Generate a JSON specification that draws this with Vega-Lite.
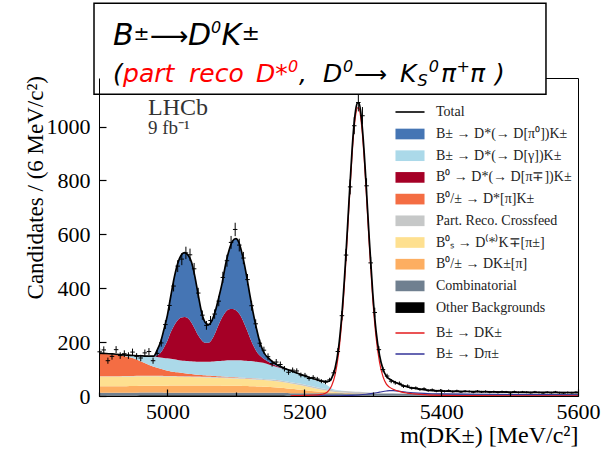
{
"$schema":"https://vega.github.io/schema/vega-lite/v6.json",
"width":479,"height":318,
"autosize":{"type":"none"},
"padding":{"left":99,"top":78,"right":33,"bottom":58},
"background":"white",
"config":{"view":{"stroke":"black","strokeWidth":1}},
"datasets":{
"comp":[
{"x":4900,"k1":2,"k2":10,"k3":24,"k4":36,"k5":1,"k6":85,"k7":1,"k8":0,"k9":0},
{"x":4910,"k1":2,"k2":9.95,"k3":24.2,"k4":36,"k5":1.1,"k6":83,"k7":1.5,"k8":0,"k9":0},
{"x":4920,"k1":2,"k2":9.9,"k3":24.4,"k4":36,"k5":1.2,"k6":80.5,"k7":2,"k8":0,"k9":0},
{"x":4930,"k1":2,"k2":9.85,"k3":24.6,"k4":36,"k5":1.3,"k6":77,"k7":3,"k8":0,"k9":0},
{"x":4940,"k1":2,"k2":9.8,"k3":24.8,"k4":36,"k5":1.4,"k6":73,"k7":5,"k8":0,"k9":0},
{"x":4950,"k1":2,"k2":9.75,"k3":25,"k4":36,"k5":1.5,"k6":66,"k7":10,"k8":0,"k9":0},
{"x":4960,"k1":3,"k2":9.7,"k3":25.2,"k4":35.6,"k5":1.6,"k6":55,"k7":19,"k8":0,"k9":0},
{"x":4970,"k1":3,"k2":9.65,"k3":25.4,"k4":35.2,"k5":1.7,"k6":44,"k7":29,"k8":0,"k9":0},
{"x":4980,"k1":3,"k2":9.6,"k3":25.6,"k4":34.8,"k5":1.8,"k6":34,"k7":37.2,"k8":0,"k9":2},
{"x":4985,"k1":3,"k2":9.6,"k3":25.7,"k4":34.6,"k5":1.9,"k6":30,"k7":40.3,"k8":5,"k9":20},
{"x":4990,"k1":3,"k2":9.6,"k3":25.8,"k4":34.4,"k5":1.9,"k6":26,"k7":42.4,"k8":17,"k9":40},
{"x":4995,"k1":3,"k2":9.5,"k3":25.9,"k4":34.2,"k5":2,"k6":23,"k7":43.4,"k8":39,"k9":68},
{"x":5000,"k1":3,"k2":9.5,"k3":26,"k4":34,"k5":2,"k6":19,"k7":46.5,"k8":65,"k9":95},
{"x":5005,"k1":3,"k2":9.5,"k3":26.1,"k4":33.6,"k5":2.1,"k6":17,"k7":46.8,"k8":99,"k9":135},
{"x":5010,"k1":3,"k2":9.5,"k3":26.2,"k4":33.2,"k5":2.1,"k6":15,"k7":47.1,"k8":126,"k9":178},
{"x":5015,"k1":3,"k2":9.4,"k3":26.3,"k4":32.8,"k5":2.2,"k6":14,"k7":46.3,"k8":147,"k9":211},
{"x":5020,"k1":3,"k2":9.4,"k3":26.4,"k4":32.4,"k5":2.2,"k6":12.5,"k7":46.1,"k8":159,"k9":231},
{"x":5025,"k1":3,"k2":9.4,"k3":26.5,"k4":32,"k5":2.3,"k6":11.5,"k7":46.4,"k8":162,"k9":239},
{"x":5030,"k1":3,"k2":9.4,"k3":26.6,"k4":31.6,"k5":2.3,"k6":10,"k7":47.2,"k8":158,"k9":235},
{"x":5035,"k1":3,"k2":9.3,"k3":26.7,"k4":31.2,"k5":2.4,"k6":9,"k7":47.4,"k8":144,"k9":225},
{"x":5040,"k1":3,"k2":9.3,"k3":26.8,"k4":30.8,"k5":2.4,"k6":7.7,"k7":48,"k8":122,"k9":195},
{"x":5045,"k1":3,"k2":9.3,"k3":26.9,"k4":30.4,"k5":2.5,"k6":7,"k7":48,"k8":98,"k9":150},
{"x":5050,"k1":3,"k2":9.3,"k3":27,"k4":30,"k5":2.5,"k6":6.2,"k7":49,"k8":80,"k9":103},
{"x":5055,"k1":3,"k2":9.2,"k3":26.9,"k4":29.7,"k5":2.6,"k6":5.6,"k7":50,"k8":71,"k9":76},
{"x":5060,"k1":3,"k2":9.2,"k3":26.8,"k4":29.4,"k5":2.6,"k6":5,"k7":51,"k8":71,"k9":67},
{"x":5065,"k1":3,"k2":9.2,"k3":26.7,"k4":29.1,"k5":2.7,"k6":4.4,"k7":53,"k8":82,"k9":70},
{"x":5070,"k1":3,"k2":9.2,"k3":26.6,"k4":28.8,"k5":2.7,"k6":3.8,"k7":55,"k8":106,"k9":80},
{"x":5075,"k1":3,"k2":9.1,"k3":26.5,"k4":28.5,"k5":2.8,"k6":3.3,"k7":56.8,"k8":135,"k9":100},
{"x":5080,"k1":3,"k2":9.1,"k3":26.4,"k4":28.2,"k5":2.8,"k6":2.9,"k7":58.6,"k8":161,"k9":128},
{"x":5085,"k1":3,"k2":9.1,"k3":26.3,"k4":27.9,"k5":2.9,"k6":2.5,"k7":60.4,"k8":180,"k9":176},
{"x":5090,"k1":3,"k2":9.1,"k3":26.2,"k4":27.6,"k5":2.9,"k6":2.1,"k7":62.2,"k8":189,"k9":218},
{"x":5095,"k1":3,"k2":9,"k3":26.1,"k4":27.3,"k5":3,"k6":1.8,"k7":62.8,"k8":190,"k9":251},
{"x":5100,"k1":3,"k2":9,"k3":26,"k4":27,"k5":3,"k6":1.5,"k7":63.5,"k8":185,"k9":266},
{"x":5105,"k1":3,"k2":9,"k3":25.6,"k4":26.7,"k5":3.1,"k6":1.3,"k7":64.3,"k8":172,"k9":261},
{"x":5110,"k1":3,"k2":9,"k3":25.2,"k4":26.4,"k5":3.2,"k6":1.1,"k7":64.2,"k8":150,"k9":236},
{"x":5115,"k1":3,"k2":8.9,"k3":24.8,"k4":26.1,"k5":3.3,"k6":1,"k7":63.9,"k8":121,"k9":203},
{"x":5120,"k1":3,"k2":8.9,"k3":24.4,"k4":25.8,"k5":3.4,"k6":0.9,"k7":63.6,"k8":90,"k9":162},
{"x":5125,"k1":3,"k2":8.9,"k3":24,"k4":25.5,"k5":3.5,"k6":0.8,"k7":63.3,"k8":61,"k9":122},
{"x":5130,"k1":3,"k2":8.9,"k3":23.6,"k4":25.2,"k5":3.6,"k6":0.7,"k7":62,"k8":39,"k9":86},
{"x":5135,"k1":3,"k2":8.8,"k3":23.2,"k4":24.9,"k5":3.7,"k6":0.6,"k7":60.8,"k8":25,"k9":50},
{"x":5140,"k1":3,"k2":8.8,"k3":22.8,"k4":24.6,"k5":3.8,"k6":0.5,"k7":59.5,"k8":16,"k9":27},
{"x":5150,"k1":3,"k2":8.8,"k3":22,"k4":24,"k5":4,"k6":0.4,"k7":52.9,"k8":8,"k9":12},
{"x":5160,"k1":3,"k2":8.7,"k3":20,"k4":23,"k5":4.2,"k6":0.3,"k7":48.8,"k8":3,"k9":5},
{"x":5170,"k1":3,"k2":8.7,"k3":18,"k4":21.5,"k5":4.4,"k6":0.2,"k7":44.2,"k8":1,"k9":3},
{"x":5180,"k1":2,"k2":8.6,"k3":16,"k4":20,"k5":4.6,"k6":0.2,"k7":41.1,"k8":0,"k9":1.5},
{"x":5190,"k1":2,"k2":8.6,"k3":13.5,"k4":18,"k5":4.8,"k6":0.1,"k7":35.5,"k8":0,"k9":0.5},
{"x":5200,"k1":2,"k2":8.5,"k3":11,"k4":16,"k5":5,"k6":0.1,"k7":30.4,"k8":0,"k9":0},
{"x":5210,"k1":2,"k2":8.5,"k3":8.5,"k4":13,"k5":5.3,"k6":0,"k7":26.8,"k8":0,"k9":0},
{"x":5220,"k1":2,"k2":8.4,"k3":6,"k4":10,"k5":5.5,"k6":0,"k7":23.1,"k8":0,"k9":0},
{"x":5230,"k1":2,"k2":8.4,"k3":4,"k4":7,"k5":5.8,"k6":0,"k7":17.9,"k8":0,"k9":0},
{"x":5240,"k1":1.5,"k2":8.3,"k3":2.5,"k4":4,"k5":6,"k6":0,"k7":5.7,"k8":0,"k9":0},
{"x":5250,"k1":1.5,"k2":8.3,"k3":1.6,"k4":2.5,"k5":6,"k6":0,"k7":1.1,"k8":0,"k9":0},
{"x":5260,"k1":1.5,"k2":8.2,"k3":1,"k4":1.5,"k5":6,"k6":0,"k7":0.3,"k8":0,"k9":0},
{"x":5270,"k1":1.5,"k2":8.2,"k3":0.6,"k4":1,"k5":5.5,"k6":0,"k7":0,"k8":0,"k9":0},
{"x":5280,"k1":1.5,"k2":8.1,"k3":0.3,"k4":0.5,"k5":5,"k6":0,"k7":0,"k8":0,"k9":0},
{"x":5290,"k1":1.5,"k2":8.1,"k3":0.1,"k4":0.2,"k5":4.3,"k6":0,"k7":0,"k8":0,"k9":0},
{"x":5300,"k1":1,"k2":8,"k3":0,"k4":0,"k5":3.5,"k6":0,"k7":0,"k8":0,"k9":0},
{"x":5320,"k1":1,"k2":7.9,"k3":0,"k4":0,"k5":2,"k6":0,"k7":0,"k8":0,"k9":0},
{"x":5340,"k1":1,"k2":7.8,"k3":0,"k4":0,"k5":1,"k6":0,"k7":0,"k8":0,"k9":0},
{"x":5360,"k1":1,"k2":7.7,"k3":0,"k4":0,"k5":0.5,"k6":0,"k7":0,"k8":0,"k9":0},
{"x":5380,"k1":1,"k2":7.6,"k3":0,"k4":0,"k5":0.2,"k6":0,"k7":0,"k8":0,"k9":0},
{"x":5400,"k1":1,"k2":7.5,"k3":0,"k4":0,"k5":0,"k6":0,"k7":0,"k8":0,"k9":0},
{"x":5450,"k1":1,"k2":7.3,"k3":0,"k4":0,"k5":0,"k6":0,"k7":0,"k8":0,"k9":0},
{"x":5500,"k1":1,"k2":7,"k3":0,"k4":0,"k5":0,"k6":0,"k7":0,"k8":0,"k9":0},
{"x":5550,"k1":1,"k2":6.8,"k3":0,"k4":0,"k5":0,"k6":0,"k7":0,"k8":0,"k9":0},
{"x":5600,"k1":1,"k2":6.5,"k3":0,"k4":0,"k5":0,"k6":0,"k7":0,"k8":0,"k9":0}
],
"tot":[
{"x":4900,"s":"Total","v":159},{"x":4910,"s":"Total","v":157.8},{"x":4920,"s":"Total","v":156},{"x":4930,"s":"Total","v":153.8},{"x":4940,"s":"Total","v":152},{"x":4950,"s":"Total","v":150.3},{"x":4960,"s":"Total","v":149.1},{"x":4970,"s":"Total","v":148},{"x":4980,"s":"Total","v":148},{"x":4985,"s":"Total","v":170},{"x":4990,"s":"Total","v":200},{"x":4995,"s":"Total","v":248},{"x":5000,"s":"Total","v":300},{"x":5005,"s":"Total","v":372},{"x":5010,"s":"Total","v":440},{"x":5015,"s":"Total","v":492},{"x":5020,"s":"Total","v":522},{"x":5025,"s":"Total","v":532},{"x":5030,"s":"Total","v":523},{"x":5035,"s":"Total","v":498},{"x":5040,"s":"Total","v":445},{"x":5045,"s":"Total","v":375},{"x":5050,"s":"Total","v":310},{"x":5055,"s":"Total","v":274},{"x":5060,"s":"Total","v":265},{"x":5065,"s":"Total","v":280},{"x":5070,"s":"Total","v":315},{"x":5075,"s":"Total","v":365},{"x":5080,"s":"Total","v":420},{"x":5085,"s":"Total","v":488},{"x":5090,"s":"Total","v":540},{"x":5095,"s":"Total","v":574},{"x":5100,"s":"Total","v":584},{"x":5105,"s":"Total","v":566},{"x":5110,"s":"Total","v":518},{"x":5115,"s":"Total","v":455},{"x":5120,"s":"Total","v":382},{"x":5125,"s":"Total","v":312},{"x":5130,"s":"Total","v":252},{"x":5135,"s":"Total","v":200},{"x":5140,"s":"Total","v":166},{"x":5150,"s":"Total","v":135},{"x":5160,"s":"Total","v":116},{"x":5170,"s":"Total","v":104},{"x":5180,"s":"Total","v":94},{"x":5190,"s":"Total","v":84.5},{"x":5200,"s":"Total","v":75},{"x":5210,"s":"Total","v":67},{"x":5220,"s":"Total","v":59},{"x":5225,"s":"Total","v":56},{"x":5230,"s":"Total","v":54},{"x":5235,"s":"Total","v":54},{"x":5240,"s":"Total","v":66.5},{"x":5245,"s":"Total","v":103},{"x":5250,"s":"Total","v":177},{"x":5255,"s":"Total","v":305},{"x":5260,"s":"Total","v":489},{"x":5265,"s":"Total","v":709},{"x":5270,"s":"Total","v":920},{"x":5272.5,"s":"Total","v":1003},{"x":5275,"s":"Total","v":1060},{"x":5277.5,"s":"Total","v":1088},{"x":5280,"s":"Total","v":1087},{"x":5282.5,"s":"Total","v":1053},{"x":5285,"s":"Total","v":990},{"x":5287.5,"s":"Total","v":904},{"x":5290,"s":"Total","v":802},{"x":5295,"s":"Total","v":581},{"x":5300,"s":"Total","v":385},{"x":5305,"s":"Total","v":239},{"x":5310,"s":"Total","v":151},{"x":5315,"s":"Total","v":100},{"x":5320,"s":"Total","v":73},{"x":5325,"s":"Total","v":62},{"x":5330,"s":"Total","v":55},{"x":5340,"s":"Total","v":43},{"x":5350,"s":"Total","v":34.5},{"x":5360,"s":"Total","v":29},{"x":5380,"s":"Total","v":22},{"x":5400,"s":"Total","v":19},{"x":5450,"s":"Total","v":16.3},{"x":5500,"s":"Total","v":14.6},{"x":5550,"s":"Total","v":13.5},{"x":5600,"s":"Total","v":12.5}
],
"sig":[
{"x":5200,"s":"Dpi","v":0},{"x":5220,"s":"Dpi","v":0.1},{"x":5240,"s":"Dpi","v":0.5},{"x":5250,"s":"Dpi","v":0.8},{"x":5260,"s":"Dpi","v":1.2},{"x":5270,"s":"Dpi","v":2},{"x":5280,"s":"Dpi","v":3.8},{"x":5290,"s":"Dpi","v":6.4},{"x":5300,"s":"Dpi","v":10},{"x":5310,"s":"Dpi","v":14.2},{"x":5320,"s":"Dpi","v":18.5},{"x":5325,"s":"Dpi","v":19.8},{"x":5330,"s":"Dpi","v":20},{"x":5340,"s":"Dpi","v":17.5},{"x":5350,"s":"Dpi","v":14},{"x":5360,"s":"Dpi","v":11.5},{"x":5380,"s":"Dpi","v":9.2},{"x":5400,"s":"Dpi","v":8},{"x":5450,"s":"Dpi","v":6.5},{"x":5500,"s":"Dpi","v":5.6},{"x":5550,"s":"Dpi","v":5},{"x":5600,"s":"Dpi","v":4.5},
{"x":5180,"s":"DK","v":1},{"x":5190,"s":"DK","v":1.5},{"x":5200,"s":"DK","v":2},{"x":5210,"s":"DK","v":3},{"x":5220,"s":"DK","v":4},{"x":5225,"s":"DK","v":6},{"x":5230,"s":"DK","v":9},{"x":5235,"s":"DK","v":18},{"x":5240,"s":"DK","v":38},{"x":5245,"s":"DK","v":78},{"x":5250,"s":"DK","v":155},{"x":5255,"s":"DK","v":284},{"x":5260,"s":"DK","v":469},{"x":5265,"s":"DK","v":690},{"x":5270,"s":"DK","v":901},{"x":5272.5,"s":"DK","v":984},{"x":5275,"s":"DK","v":1041},{"x":5277.5,"s":"DK","v":1069},{"x":5280,"s":"DK","v":1068},{"x":5282.5,"s":"DK","v":1033},{"x":5285,"s":"DK","v":970},{"x":5287.5,"s":"DK","v":884},{"x":5290,"s":"DK","v":781},{"x":5295,"s":"DK","v":560},{"x":5300,"s":"DK","v":362},{"x":5305,"s":"DK","v":215},{"x":5310,"s":"DK","v":125},{"x":5315,"s":"DK","v":72},{"x":5320,"s":"DK","v":44},{"x":5325,"s":"DK","v":32},{"x":5330,"s":"DK","v":25},{"x":5340,"s":"DK","v":16},{"x":5350,"s":"DK","v":11},{"x":5360,"s":"DK","v":8},{"x":5380,"s":"DK","v":4},{"x":5400,"s":"DK","v":2.5},{"x":5450,"s":"DK","v":1.5},{"x":5500,"s":"DK","v":1},{"x":5550,"s":"DK","v":0.7},{"x":5600,"s":"DK","v":0.5}
],
"pts":[
{"x":4901,"n":164,"e":12.8},{"x":4907,"n":171,"e":13.1},{"x":4913,"n":131,"e":11.4},{"x":4919,"n":147,"e":12.1},{"x":4925,"n":172,"e":13.1},{"x":4931,"n":150,"e":12.2},{"x":4937,"n":157,"e":12.5},{"x":4943,"n":150,"e":12.2},{"x":4949,"n":163,"e":12.8},{"x":4955,"n":147,"e":12.1},{"x":4961,"n":141,"e":11.9},{"x":4967,"n":160,"e":12.6},{"x":4973,"n":165,"e":12.8},{"x":4979,"n":131,"e":11.4},{"x":4985,"n":158,"e":12.6},{"x":4991,"n":197,"e":14.0},{"x":4997,"n":265,"e":16.3},{"x":5003,"n":336,"e":18.3},{"x":5009,"n":408,"e":20.2},{"x":5015,"n":482,"e":22.0},{"x":5021,"n":508,"e":22.5},{"x":5027,"n":531,"e":23.0},{"x":5033,"n":524,"e":22.9},{"x":5039,"n":472,"e":21.7},{"x":5045,"n":382,"e":19.5},{"x":5051,"n":300,"e":17.3},{"x":5057,"n":262,"e":16.2},{"x":5063,"n":280,"e":16.7},{"x":5069,"n":304,"e":17.4},{"x":5075,"n":352,"e":18.8},{"x":5081,"n":440,"e":21.0},{"x":5087,"n":502,"e":22.4},{"x":5093,"n":570,"e":23.9},{"x":5099,"n":618,"e":24.9},{"x":5105,"n":560,"e":23.7},{"x":5111,"n":512,"e":22.6},{"x":5117,"n":432,"e":20.8},{"x":5123,"n":335,"e":18.3},{"x":5129,"n":268,"e":16.4},{"x":5135,"n":196,"e":14.0},{"x":5141,"n":170,"e":13.0},{"x":5147,"n":146,"e":12.1},{"x":5153,"n":120,"e":11.0},{"x":5159,"n":126,"e":11.2},{"x":5165,"n":117,"e":10.8},{"x":5171,"n":101,"e":10.0},{"x":5177,"n":88,"e":9.4},{"x":5183,"n":96,"e":9.8},{"x":5189,"n":93,"e":9.6},{"x":5195,"n":78,"e":8.8},{"x":5201,"n":77,"e":8.8},{"x":5207,"n":65,"e":8.1},{"x":5213,"n":69,"e":8.3},{"x":5219,"n":63,"e":7.9},{"x":5225,"n":55,"e":7.4},{"x":5231,"n":51,"e":7.1},{"x":5237,"n":60,"e":7.7},{"x":5243,"n":86,"e":9.3},{"x":5249,"n":165,"e":12.8},{"x":5255,"n":298,"e":17.3},{"x":5261,"n":523,"e":22.9},{"x":5267,"n":776,"e":27.9},{"x":5273,"n":1003,"e":31.7},{"x":5279,"n":1089,"e":33.0},{"x":5285,"n":1040,"e":32.2},{"x":5291,"n":780,"e":27.9},{"x":5297,"n":494,"e":22.2},{"x":5303,"n":310,"e":17.6},{"x":5309,"n":172,"e":13.1},{"x":5315,"n":98,"e":9.9},{"x":5321,"n":74,"e":8.6},{"x":5327,"n":55,"e":7.4},{"x":5333,"n":49,"e":7.0},{"x":5339,"n":47,"e":6.9},{"x":5345,"n":36,"e":6.0},{"x":5351,"n":37,"e":6.1},{"x":5357,"n":29,"e":5.4},{"x":5363,"n":30,"e":5.5},{"x":5369,"n":24,"e":4.9},{"x":5375,"n":27,"e":5.2},{"x":5381,"n":20,"e":4.5},{"x":5387,"n":23,"e":4.8},{"x":5393,"n":18,"e":4.2},{"x":5399,"n":21,"e":4.6},{"x":5405,"n":17,"e":4.1},{"x":5411,"n":20,"e":4.5},{"x":5417,"n":16,"e":4.0},{"x":5423,"n":19,"e":4.4},{"x":5429,"n":15,"e":3.9},{"x":5435,"n":18,"e":4.2},{"x":5441,"n":17,"e":4.1},{"x":5447,"n":14,"e":3.7},{"x":5453,"n":18,"e":4.2},{"x":5459,"n":15,"e":3.9},{"x":5465,"n":17,"e":4.1},{"x":5471,"n":14,"e":3.7},{"x":5477,"n":16,"e":4.0},{"x":5483,"n":13,"e":3.6},{"x":5489,"n":16,"e":4.0},{"x":5495,"n":15,"e":3.9},{"x":5501,"n":12,"e":3.5},{"x":5507,"n":16,"e":4.0},{"x":5513,"n":13,"e":3.6},{"x":5519,"n":15,"e":3.9},{"x":5525,"n":14,"e":3.7},{"x":5531,"n":12,"e":3.5},{"x":5537,"n":15,"e":3.9},{"x":5543,"n":13,"e":3.6},{"x":5549,"n":11,"e":3.3},{"x":5555,"n":14,"e":3.7},{"x":5561,"n":12,"e":3.5},{"x":5567,"n":15,"e":3.9},{"x":5573,"n":12,"e":3.5},{"x":5579,"n":11,"e":3.3},{"x":5585,"n":13,"e":3.6},{"x":5591,"n":12,"e":3.5},{"x":5597,"n":14,"e":3.7}
]
},
"layer":[
{"data":{"name":"comp"},
 "transform":[{"fold":["k1","k2","k3","k4","k5","k6","k7","k8","k9"],"as":["key","v"]}],
 "mark":{"type":"area","interpolate":"monotone","opacity":1},
 "encoding":{
  "x":{"field":"x","type":"quantitative","title":"m(DK±) [MeV/c²]","scale":{"domain":[4900,5600],"nice":false,"zero":false},
   "axis":{"zindex":1,"ticks":true,"values":[4900,4950,5000,5050,5100,5150,5200,5250,5300,5350,5400,5450,5500,5550,5600],"format":"d","labelExpr":"datum.value % 200 === 0 ? datum.label : ''","labelFlush":false,"labelOverlap":false,"tickSize":-7,"tickDash":{"condition":{"test":"datum.value % 200 === 0","value":[7,1]},"value":[4,20]},"tickColor":"black","tickWidth":1.2,"tickOpacity":1,"domainColor":"black","domainWidth":1,"labelFont":"Liberation Serif","labelFontSize":22,"labelColor":"black","labelPadding":12,"titleFont":"Liberation Serif","titleFontSize":24,"titleFontWeight":"normal","titleColor":"black","titleAnchor":"end","titlePadding":1,"grid":false}},
  "y":{"field":"v","type":"quantitative","stack":"zero","title":null,"scale":{"domain":[0,1180],"nice":false,"zero":true},
   "axis":{"zindex":1,"ticks":true,"values":[0,50,100,150,200,250,300,350,400,450,500,550,600,650,700,750,800,850,900,950,1000,1050,1100,1150],"format":"d","labelExpr":"datum.value % 200 === 0 ? datum.label : ''","labelOverlap":false,"labelFlush":false,"tickSize":-7,"tickDash":{"condition":{"test":"datum.value % 200 === 0","value":[7,1]},"value":[4,20]},"tickColor":"black","tickWidth":1.2,"tickOpacity":1,"domainColor":"black","domainWidth":1,"labelFont":"Liberation Serif","labelFontSize":22,"labelColor":"black","labelPadding":16,"grid":false}},
  "fill":{"field":"key","type":"nominal",
   "scale":{"domain":["k9","k7","k8","k6","k5","k4","k3","k2","k1"],"range":["#4575b4","#abd9e9","#a50026","#f46d43","#c6c8c8","#fee090","#fdae61","#708090","#000000"]},
   "legend":{"orient":"none","legendX":304,"legendY":49,"title":null,"symbolType":"M-2.64,-0.97H2.64V0.97H-2.64Z","symbolSize":121,"symbolStrokeWidth":0,"symbolOpacity":1,"labelFont":"Liberation Serif","labelFontSize":14,"labelColor":"#222222","rowPadding":7.7,"labelOffset":19,"padding":0,"labelLimit":300,
    "labelExpr":"datum.label == 'k9' ? 'B± → D*(→ D[π⁰])K±' : datum.label == 'k7' ? 'B± → D*(→ D[γ])K±' : datum.label == 'k8' ? 'B⁰ → D*(→ D[π∓])K±' : datum.label == 'k6' ? 'B⁰/± → D*[π]K±' : datum.label == 'k5' ? 'Part. Reco. Crossfeed' : datum.label == 'k4' ? 'B⁰ₛ → D⁽*⁾K∓[π±]' : datum.label == 'k3' ? 'B⁰/± → DK±[π]' : datum.label == 'k2' ? 'Combinatorial' : 'Other Backgrounds'"}},
  "order":{"field":"key","sort":"ascending"}
 }},
{"data":{"name":"sig"},
 "mark":{"type":"line","interpolate":"monotone","strokeWidth":1.2},
 "encoding":{
  "x":{"field":"x","type":"quantitative","title":"m(DK±) [MeV/c²]"},
  "y":{"field":"v","type":"quantitative","title":null},
  "color":{"field":"s","type":"nominal","scale":{"domain":["DK","Dpi"],"range":["#e31a1c","#333399"]},
   "legend":{"orient":"none","legendX":304,"legendY":248,"title":null,"symbolType":"M-2.64,0H2.64","symbolSize":121,"symbolStrokeWidth":1.5,"labelFont":"Liberation Serif","labelFontSize":14,"labelColor":"#222222","rowPadding":7,"labelOffset":19,"padding":0,
    "labelExpr":"datum.label == 'DK' ? 'B± → DK±' : 'B± → Dπ±'"}}
 }},
{"data":{"name":"tot"},
 "mark":{"type":"line","interpolate":"monotone","strokeWidth":1.7},
 "encoding":{
  "x":{"field":"x","type":"quantitative","title":"m(DK±) [MeV/c²]"},
  "y":{"field":"v","type":"quantitative","title":null},
  "stroke":{"field":"s","type":"nominal","scale":{"domain":["Total"],"range":["#000000"]},
   "legend":{"orient":"none","legendX":304,"legendY":27,"title":null,"symbolType":"M-2.64,0H2.64","symbolSize":121,"symbolStrokeWidth":1.6,"labelFont":"Liberation Serif","labelFontSize":14,"labelColor":"#222222","labelOffset":19,"padding":0}}
 }},
{"data":{"name":"pts"},
 "mark":{"type":"errorbar","color":"black","thickness":1},
 "encoding":{
  "x":{"field":"x","type":"quantitative","title":"m(DK±) [MeV/c²]"},
  "y":{"field":"n","type":"quantitative","title":null},
  "yError":{"field":"e"}
 }},
{"data":{"name":"pts"},
 "mark":{"type":"tick","orient":"horizontal","color":"black","thickness":1,"size":4.5,"opacity":1},
 "encoding":{
  "x":{"field":"x","type":"quantitative","title":"m(DK±) [MeV/c²]"},
  "y":{"field":"n","type":"quantitative","title":null}
 }},
{"data":{"values":[{}]},
 "layer":[
{"mark":{"type":"text","text":"Candidates / (6 MeV/c²)","angle":270,"align":"right","baseline":"alphabetic","font":"Liberation Serif","fontSize":23,"color":"black","clip":false},
 "encoding":{"x":{"datum":4818.2},"y":{"datum":1187.4}}},
{"mark":{"type":"rect","fill":"white","stroke":"black","strokeWidth":1.5,"clip":false},
 "encoding":{"x":{"datum":4892.7},"x2":{"datum":5553.2},"y":{"datum":1457},"y2":{"datum":1119.5}}},
{"mark":{"type":"text","text":"LHCb","font":"Liberation Serif","fontSize":24,"color":"#333333","align":"left","baseline":"alphabetic"},
 "encoding":{"x":{"datum":4971.6},"y":{"datum":1044}}},
{"mark":{"type":"text","text":"9 fb⁻¹","font":"Liberation Serif","fontSize":19,"color":"#333333","align":"left","baseline":"alphabetic"},
 "encoding":{"x":{"datum":4971.6},"y":{"datum":973}}},
{"mark":{"type":"text","text":"B","font":"DejaVu Sans","fontStyle":"italic","fontSize":30,"color":"black","align":"left","baseline":"alphabetic"},
 "encoding":{"x":{"datum":4920.5},"y":{"datum":1302.5}}},
{"mark":{"type":"text","text":"±","font":"DejaVu Sans","fontStyle":"italic","fontSize":19,"color":"black","align":"left","baseline":"alphabetic"},
 "encoding":{"x":{"datum":4950.4},"y":{"datum":1321}}},
{"mark":{"type":"text","text":"⟶","font":"DejaVu Sans","fontSize":27,"color":"black","align":"left","baseline":"alphabetic"},
 "encoding":{"x":{"datum":4974.6},"y":{"datum":1302.5}}},
{"mark":{"type":"text","text":"D","font":"DejaVu Sans","fontStyle":"italic","fontSize":30,"color":"black","align":"left","baseline":"alphabetic"},
 "encoding":{"x":{"datum":5030.1},"y":{"datum":1302.5}}},
{"mark":{"type":"text","text":"0","font":"DejaVu Sans","fontStyle":"italic","fontSize":16,"color":"black","align":"left","baseline":"alphabetic"},
 "encoding":{"x":{"datum":5063.7},"y":{"datum":1347}}},
{"mark":{"type":"text","text":"K","font":"DejaVu Sans","fontStyle":"italic","fontSize":30,"color":"black","align":"left","baseline":"alphabetic"},
 "encoding":{"x":{"datum":5078.9},"y":{"datum":1302.5}}},
{"mark":{"type":"text","text":"±","font":"DejaVu Sans","fontStyle":"italic","fontSize":22,"color":"black","align":"left","baseline":"alphabetic"},
 "encoding":{"x":{"datum":5108.1},"y":{"datum":1321}}},
{"mark":{"type":"text","text":"(","font":"DejaVu Sans","fontStyle":"italic","fontSize":25,"color":"black","align":"left","baseline":"alphabetic"},
 "encoding":{"x":{"datum":4920.5},"y":{"datum":1165.2}}},
{"mark":{"type":"text","text":"part","font":"DejaVu Sans","fontStyle":"italic","fontSize":25,"color":"#ff0000","align":"left","baseline":"alphabetic"},
 "encoding":{"x":{"datum":4935.1},"y":{"datum":1165.2}}},
{"mark":{"type":"text","text":"reco","font":"DejaVu Sans","fontStyle":"italic","fontSize":25,"color":"#ff0000","align":"left","baseline":"alphabetic"},
 "encoding":{"x":{"datum":5031.5},"y":{"datum":1165.2}}},
{"mark":{"type":"text","text":"D*","font":"DejaVu Sans","fontStyle":"italic","fontSize":25,"color":"#ff0000","align":"left","baseline":"alphabetic"},
 "encoding":{"x":{"datum":5129.5},"y":{"datum":1165.2}}},
{"mark":{"type":"text","text":"0","font":"DejaVu Sans","fontStyle":"italic","fontSize":16,"color":"#ff0000","align":"left","baseline":"alphabetic"},
 "encoding":{"x":{"datum":5176.2},"y":{"datum":1202.3}}},
{"mark":{"type":"text","text":",","font":"DejaVu Sans","fontStyle":"italic","fontSize":25,"color":"black","align":"left","baseline":"alphabetic"},
 "encoding":{"x":{"datum":5192.3},"y":{"datum":1165.2}}},
{"mark":{"type":"text","text":"D","font":"DejaVu Sans","fontStyle":"italic","fontSize":25,"color":"black","align":"left","baseline":"alphabetic"},
 "encoding":{"x":{"datum":5227.3},"y":{"datum":1165.2}}},
{"mark":{"type":"text","text":"0","font":"DejaVu Sans","fontStyle":"italic","fontSize":16,"color":"black","align":"left","baseline":"alphabetic"},
 "encoding":{"x":{"datum":5256.5},"y":{"datum":1202.3}}},
{"mark":{"type":"text","text":"⟶","font":"DejaVu Sans","fontSize":23,"color":"black","align":"left","baseline":"alphabetic"},
 "encoding":{"x":{"datum":5272.6},"y":{"datum":1165.2}}},
{"mark":{"type":"text","text":"K","font":"DejaVu Sans","fontStyle":"italic","fontSize":25,"color":"black","align":"left","baseline":"alphabetic"},
 "encoding":{"x":{"datum":5339.8},"y":{"datum":1165.2}}},
{"mark":{"type":"text","text":"S","font":"DejaVu Sans","fontStyle":"italic","fontSize":16,"color":"black","align":"left","baseline":"alphabetic"},
 "encoding":{"x":{"datum":5365.6},"y":{"datum":1150.4}}},
{"mark":{"type":"text","text":"0","font":"DejaVu Sans","fontStyle":"italic","fontSize":16,"color":"black","align":"left","baseline":"alphabetic"},
 "encoding":{"x":{"datum":5381.9},"y":{"datum":1202.3}}},
{"mark":{"type":"text","text":"π","font":"DejaVu Sans","fontStyle":"italic","fontSize":25,"color":"black","align":"left","baseline":"alphabetic"},
 "encoding":{"x":{"datum":5399.7},"y":{"datum":1165.2}}},
{"mark":{"type":"text","text":"+","font":"DejaVu Sans","fontStyle":"italic","fontSize":16,"color":"black","align":"left","baseline":"alphabetic"},
 "encoding":{"x":{"datum":5422.5},"y":{"datum":1202.3}}},
{"mark":{"type":"text","text":"π","font":"DejaVu Sans","fontStyle":"italic","fontSize":25,"color":"black","align":"left","baseline":"alphabetic"},
 "encoding":{"x":{"datum":5442.2},"y":{"datum":1165.2}}},
{"mark":{"type":"text","text":")","font":"DejaVu Sans","fontStyle":"italic","fontSize":25,"color":"black","align":"left","baseline":"alphabetic"},
 "encoding":{"x":{"datum":5478.7},"y":{"datum":1165.2}}}
 ]}
]
}
